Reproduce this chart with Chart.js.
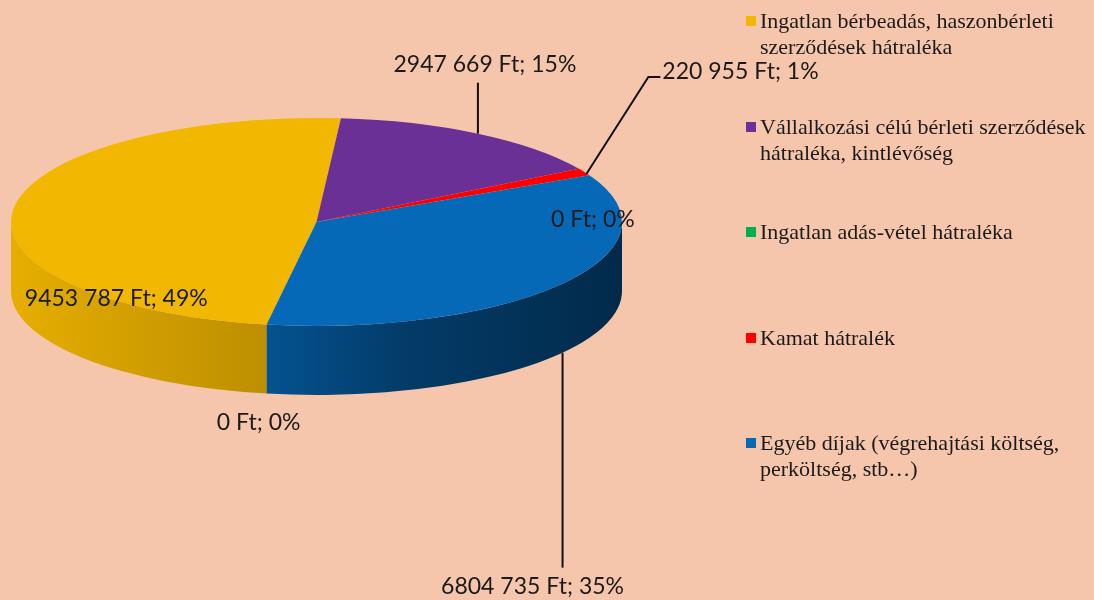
<!DOCTYPE html>
<html>
<head>
<meta charset="utf-8">
<script src="https://cdn.jsdelivr.net/npm/chart.js@4/dist/chart.umd.min.js"></script>
<style>
  html, body { margin:0; padding:0; background:#F6C6AC; width:1094px; height:600px; overflow:hidden; }
  #wrap { position:absolute; left:0; top:0; width:1094px; height:600px; }
  #legend { position:absolute; left:0; top:0; width:1094px; height:600px; pointer-events:none;
            font-family:"Liberation Serif","Times New Roman",serif; font-size:22px; color:#1a1a1a; }
  .item { position:absolute; left:760px; line-height:26px; white-space:nowrap; }
  .mark { position:absolute; left:746px; width:10px; height:10px; }
</style>
</head>
<body>
<div id="wrap"><canvas id="c" width="1094" height="600"></canvas></div>
<div id="legend"></div>
<script>
// ---- data ----
const categories = [
  ['Ingatlan bérbeadás, haszonbérleti', 'szerződések hátraléka'],
  ['Vállalkozási célú bérleti szerződések', 'hátraléka, kintlévőség'],
  ['Ingatlan adás-vétel hátraléka'],
  ['Kamat hátralék'],
  ['Egyéb díjak (végrehajtási költség,', 'perköltség, stb…)'],
  ['']
];
const values = [9453787, 2947669, 0, 220955, 6804735, 0];
const colors = ['#F2B700', '#6B3096', '#00B050', '#FF0000', '#0569B8', '#A5A5A5'];
const currency = 'Ft';

// ---- layout / style ----
const CX = 316.5, CY = 222, RX = 305.5, RY = 104, DEPTH = 69;
const wallStops = [[0, 0.95], [0.42, 0.78], [0.64, 0.57], [1, 0.40]];
// label placement relative to anchor
const labelSpec = [
  { dx: 103, dy: 89, align: 'center', leader: null, bottom: false },
  { dx: 7, dy: -69, align: 'center', leader: [[0, 0], [0, -51]], bottom: false },
  { dx: 14, dy: 51, align: 'center', leader: null, bottom: false },
  { dx: 78, dy: -100, align: 'left', leader: [[2, 2], [64, -95], [76, -95]], bottom: false },
  { dx: -30, dy: 234, align: 'center', leader: [[0, 0], [0, 215]], bottom: true },
  { dx: -8, dy: 29, align: 'center', leader: null, bottom: true }
];

function shade(hex, f) {
  const n = parseInt(hex.slice(1), 16);
  const r = Math.round(((n >> 16) & 255) * f), g = Math.round(((n >> 8) & 255) * f), b = Math.round((n & 255) * f);
  return `rgb(${r},${g},${b})`;
}
function fmt(v) {
  if (v < 1000) return String(v);
  const hi = Math.floor(v / 1000), lo = String(v % 1000).padStart(3, '0');
  return hi + ' ' + lo;
}
const total = values.reduce((a, b) => a + b, 0);

const pie3d = {
  id: 'pie3d',
  beforeDatasetsDraw(chart) {
    const ctx = chart.ctx;
    const meta = chart.getDatasetMeta(0);
    const a0 = meta.data[0];
    const r = a0.outerRadius;
    // side walls (front half only)
    meta.data.forEach((arc, i) => {
      const span = arc.endAngle - arc.startAngle;
      if (span <= 0) return;
      let s = arc.startAngle % (2 * Math.PI); if (s < 0) s += 2 * Math.PI;
      const e = s + span;
      [[0, Math.PI], [2 * Math.PI, 3 * Math.PI]].forEach(([lo, hi]) => {
        const a = Math.max(s, lo), b = Math.min(e, hi);
        if (b <= a) return;
        const g = ctx.createLinearGradient(CX - RX, 0, CX + RX, 0);
        wallStops.forEach(([p, f]) => g.addColorStop(p, shade(colors[i], f)));
        ctx.save();
        ctx.beginPath();
        ctx.ellipse(CX, CY, RX, RY, 0, a, b, false);
        ctx.ellipse(CX, CY + DEPTH, RX, RY, 0, b, a, true);
        ctx.closePath();
        ctx.fillStyle = g;
        ctx.fill();
        ctx.restore();
      });
    });
    // top face: map the library's circular pie onto the ellipse
    ctx.save();
    ctx.translate(CX, CY);
    ctx.scale(RX / r, RY / r);
    ctx.translate(-a0.x, -a0.y);
  },
  afterDatasetsDraw(chart) {
    const ctx = chart.ctx;
    ctx.restore();
    const meta = chart.getDatasetMeta(0);
    ctx.save();
    ctx.font = '23px Lato, "Open Sans", sans-serif';
    ctx.fillStyle = '#1a1a1a';
    ctx.strokeStyle = '#111';
    ctx.lineWidth = 2;
    ctx.textBaseline = 'middle';
    meta.data.forEach((arc, i) => {
      const sp = labelSpec[i];
      const mid = (arc.startAngle + arc.endAngle) / 2;
      const ax = CX + RX * Math.cos(mid);
      const ay = CY + RY * Math.sin(mid) + (sp.bottom ? DEPTH : 0);
      if (sp.leader) {
        ctx.beginPath();
        sp.leader.forEach(([px, py], k) => k ? ctx.lineTo(ax + px, ay + py) : ctx.moveTo(ax + px, ay + py));
        ctx.stroke();
      }
      const pct = Math.round(values[i] / total * 100);
      ctx.textAlign = sp.align;
      ctx.fillText(`${fmt(values[i])} ${currency}; ${pct}%`, ax + sp.dx, ay + sp.dy);
    });
    ctx.restore();
  }
};

new Chart(document.getElementById('c'), {
  type: 'pie',
  data: {
    labels: categories,
    datasets: [{ data: values, backgroundColor: colors, borderWidth: 0, clip: false }]
  },
  options: {
    responsive: false,
    animation: false,
    events: [],
    rotation: 189.4,
    layout: { padding: 10 },
    plugins: { legend: { display: false }, tooltip: { enabled: false } }
  },
  plugins: [pie3d]
});

// legend (HTML, from categories/colors)
const leg = document.getElementById('legend');
categories.forEach((lines, i) => {
  if (!lines.join('')) return;
  const cy = 21 + i * 105.5;
  const m = document.createElement('div');
  m.className = 'mark'; m.style.top = (cy - 5) + 'px'; m.style.background = colors[i];
  leg.appendChild(m);
  const t = document.createElement('div');
  t.className = 'item'; t.style.top = (cy - 13) + 'px';
  t.innerHTML = lines.join('<br>');
  leg.appendChild(t);
});
</script>
</body>
</html>
